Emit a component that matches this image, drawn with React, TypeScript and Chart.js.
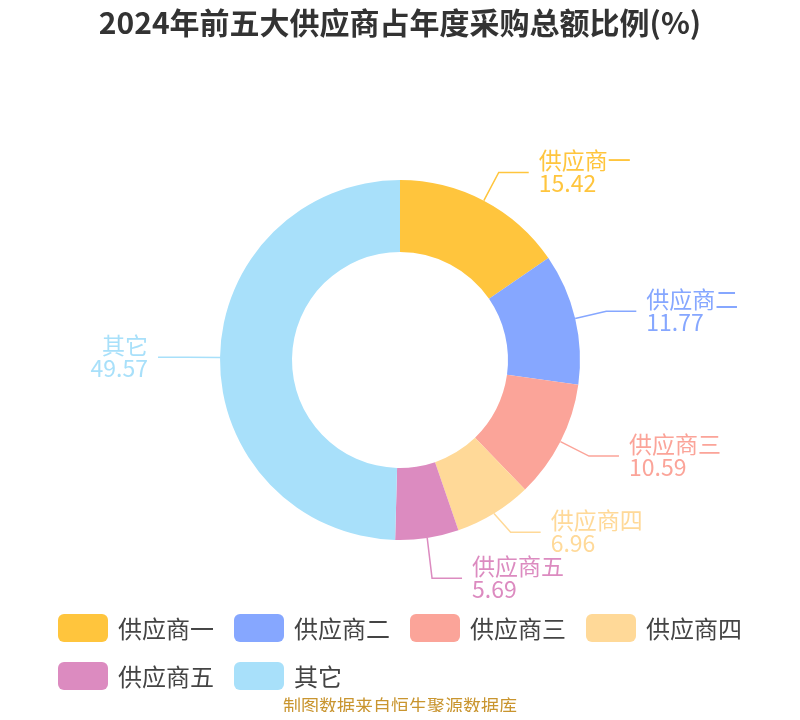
import React, { useEffect, useRef } from "react";
import { Chart, registerables } from "chart.js";

Chart.register(...registerables);

const categories = ["供应商一", "供应商二", "供应商三", "供应商四", "供应商五", "其它"];
const values = [15.42, 11.77, 10.59, 6.96, 5.69, 49.57];
const colors = ["#FFC53D", "#86A7FF", "#FBA499", "#FFD998", "#DC8BC0", "#A8E0FA"];
const titleText = "2024年前五大供应商占年度采购总额比例(%)";
const sourceText = "制图数据来自恒生聚源数据库";

const FONT = '"Noto Sans CJK SC", "Noto Sans", sans-serif';

const outLabelPlugin = {
  id: "outLabels",
  afterDatasetsDraw(chart: any) {
    const meta = chart.getDatasetMeta(0);
    const ctx = chart.ctx as CanvasRenderingContext2D;
    const len1 = 32;
    const len2 = 30;
    const gap = 10;
    const minGap = 46;
    const items = meta.data.map((arc: any, i: number) => {
      const p = arc.getProps(["x", "y", "startAngle", "endAngle", "outerRadius"], true);
      const mid = (p.startAngle + p.endAngle) / 2;
      const c = Math.cos(mid);
      const s = Math.sin(mid);
      return {
        i,
        sx: p.x + c * p.outerRadius,
        sy: p.y + s * p.outerRadius,
        ex: p.x + c * (p.outerRadius + len1),
        ey: p.y + s * (p.outerRadius + len1),
        right: c >= 0,
      };
    });
    for (const side of [true, false]) {
      const list = items.filter((it: any) => it.right === side).sort((a: any, b: any) => a.ey - b.ey);
      for (let k = 1; k < list.length; k++) {
        const a = list[k - 1];
        const b = list[k];
        const d = b.ey - a.ey;
        if (d < minGap) {
          const sh = (minGap - d) / 2;
          a.ey -= sh;
          b.ey += sh;
        }
      }
    }
    ctx.save();
    for (const it of items) {
      const color = colors[it.i];
      const endX = it.right ? it.ex + len2 : it.ex - len2;
      ctx.strokeStyle = color;
      ctx.lineWidth = 1.5;
      ctx.beginPath();
      ctx.moveTo(it.sx, it.sy);
      ctx.lineTo(it.ex, it.ey);
      ctx.lineTo(endX, it.ey);
      ctx.stroke();
      ctx.fillStyle = color;
      ctx.font = `23px ${FONT}`;
      ctx.textAlign = it.right ? "left" : "right";
      ctx.textBaseline = "middle";
      const tx = it.right ? endX + gap : endX - gap;
      ctx.fillText(categories[it.i], tx, it.ey - 12);
      ctx.fillText(values[it.i].toFixed(2), tx, it.ey + 11);
    }
    ctx.restore();
  },
};

export default function App() {
  const canvasRef = useRef<HTMLCanvasElement | null>(null);

  useEffect(() => {
    if (!canvasRef.current) return;
    const chart = new Chart(canvasRef.current, {
      type: "doughnut",
      data: {
        labels: categories,
        datasets: [
          {
            data: values,
            backgroundColor: colors,
            borderWidth: 0,
            hoverOffset: 0,
          },
        ],
      },
      options: {
        animation: false,
        responsive: true,
        maintainAspectRatio: false,
        cutout: "60%",
        layout: { padding: { top: 0, bottom: 172, left: 0, right: 0 } },
        plugins: {
          legend: { display: false },
          tooltip: { enabled: false },
          title: {
            display: true,
            text: titleText,
            color: "#333333",
            font: { family: FONT, size: 30, weight: "bold", lineHeight: 1 },
            padding: { top: 0, bottom: 142 },
          },
        },
      },
      plugins: [outLabelPlugin],
    });
    return () => chart.destroy();
  }, []);

  return (
    <div style={{ position: "relative", width: 784, height: 704, fontFamily: FONT, overflow: "hidden" }}>
      <canvas ref={canvasRef} />
      <div
        style={{
          position: "absolute",
          left: 50,
          top: 606,
          width: 730,
          display: "flex",
          flexWrap: "wrap",
          rowGap: 20,
        }}
      >
        {categories.map((name, i) => (
          <div
            key={name}
            style={{ display: "flex", alignItems: "center", width: 176, height: 28, flex: "0 0 176px" }}
          >
            <span
              style={{
                display: "inline-block",
                width: 50,
                height: 28,
                borderRadius: 6,
                background: colors[i],
                marginRight: 10,
                flex: "0 0 50px",
              }}
            />
            <span
              style={{ fontSize: 24, color: "#444444", lineHeight: "28px", whiteSpace: "nowrap" }}
            >
              {name}
            </span>
          </div>
        ))}
      </div>
      <div
        style={{
          position: "absolute",
          left: 0,
          top: 688,
          width: 784,
          textAlign: "center",
          fontSize: 18,
          lineHeight: "18px",
          whiteSpace: "nowrap",
          color: "#C9952F",
        }}
      >
        {sourceText}
      </div>
    </div>
  );
}
